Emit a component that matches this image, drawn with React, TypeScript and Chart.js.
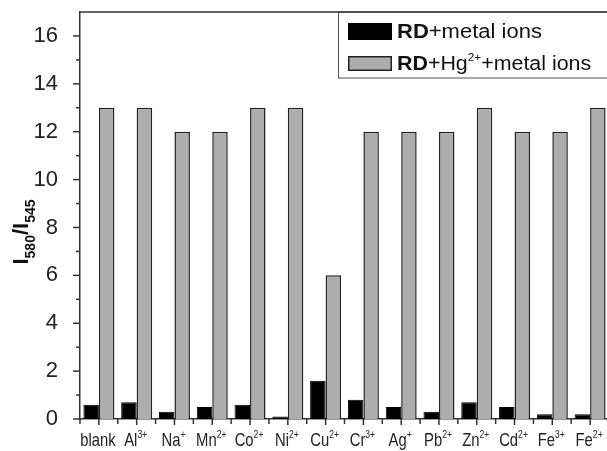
import React, { useEffect, useRef } from "react";
import { Chart, registerables } from "chart.js";

Chart.register(...registerables);

const ionSymbols = ["blank", "Al", "Na", "Mn", "Co", "Ni", "Cu", "Cr", "Ag", "Pb", "Zn", "Cd", "Fe", "Fe"];
const ionCharges = ["", "3+", "+", "2+", "2+", "2+", "2+", "3+", "+", "2+", "2+", "2+", "3+", "2+"];
const rdMetal = [0.6, 0.7, 0.3, 0.5, 0.6, 0.1, 1.6, 0.8, 0.5, 0.3, 0.7, 0.5, 0.2, 0.2];
const rdHgMetal = [13, 13, 12, 12, 13, 13, 6, 12, 12, 12, 13, 12, 12, 13];
const yTickValues = [0, 1, 2, 3, 4, 5, 6, 7, 8, 9, 10, 11, 12, 13, 14, 15, 16];
const yMax = 17;

const FONT = '"Liberation Sans", Arial, Helvetica, sans-serif';

type Seg = { text: string; font: string; dy?: number };

function drawRich(ctx: CanvasRenderingContext2D, segs: Seg[], x: number, y: number, align: "left" | "center", sx = 1) {
  ctx.save();
  ctx.translate(x, y);
  ctx.scale(sx, 1);
  ctx.textBaseline = "alphabetic";
  ctx.textAlign = "left";
  let w = 0;
  for (const s of segs) {
    ctx.font = s.font;
    w += ctx.measureText(s.text).width;
  }
  let cx = align === "center" ? -w / 2 : 0;
  for (const s of segs) {
    ctx.font = s.font;
    ctx.fillText(s.text, cx, s.dy || 0);
    cx += ctx.measureText(s.text).width;
  }
  ctx.restore();
}

const decorPlugin = {
  id: "decor",
  afterDraw(chart: any) {
    const ctx: CanvasRenderingContext2D = chart.ctx;
    const area = chart.chartArea;
    const xs = chart.scales.x;
    const ys = chart.scales.y;
    ctx.save();
    ctx.strokeStyle = "#333";
    ctx.fillStyle = "#333";
    ctx.lineWidth = 1.5;

    // y ticks
    for (const v of yTickValues) {
      const py = ys.getPixelForValue(v);
      const len = v % 2 === 0 ? 7 : 4;
      ctx.beginPath();
      ctx.moveTo(area.left - len, py);
      ctx.lineTo(area.left, py);
      ctx.stroke();
    }

    // x ticks + labels
    const n = ionSymbols.length;
    const cw = (area.right - area.left) / n;
    for (let i = 0; i < n; i++) {
      const cx = xs.getPixelForValue(i);
      ctx.strokeStyle = "#333";
      ctx.beginPath();
      ctx.moveTo(cx, area.bottom);
      ctx.lineTo(cx, area.bottom + 6);
      ctx.stroke();
      ctx.beginPath();
      ctx.moveTo(cx - cw / 2, area.bottom);
      ctx.lineTo(cx - cw / 2, area.bottom + 5);
      ctx.stroke();
      const segs: Seg[] = [{ text: ionSymbols[i], font: `19px ${FONT}` }];
      if (ionCharges[i]) segs.push({ text: ionCharges[i], font: `11px ${FONT}`, dy: -8 });
      ctx.fillStyle = "#222";
      drawRich(ctx, segs, cx - 1, 446, "center", 0.78);
    }

    // y title
    ctx.save();
    ctx.translate(28, 232);
    ctx.rotate(-Math.PI / 2);
    ctx.fillStyle = "#111";
    drawRich(
      ctx,
      [
        { text: "I", font: `bold 22px ${FONT}` },
        { text: "580", font: `bold 14px ${FONT}`, dy: 7 },
        { text: "/", font: `bold 22px ${FONT}` },
        { text: "I", font: `bold 22px ${FONT}` },
        { text: "545", font: `bold 14px ${FONT}`, dy: 7 },
      ],
      0,
      0,
      "center",
      1
    );
    ctx.restore();

    // legend
    const lx = 338;
    const ly = area.top;
    ctx.fillStyle = "#fff";
    ctx.fillRect(lx, ly, chart.width - lx, 66);
    ctx.strokeStyle = "#555";
    ctx.lineWidth = 1;
    ctx.strokeRect(lx + 0.5, ly, chart.width, 66);

    // top frame line
    ctx.strokeStyle = "#333";
    ctx.lineWidth = 1.5;
    ctx.beginPath();
    ctx.moveTo(area.left, area.top);
    ctx.lineTo(chart.width, area.top);
    ctx.stroke();

    ctx.fillStyle = "#000";
    ctx.fillRect(348, 23, 44, 17);
    ctx.fillStyle = "#adadad";
    ctx.fillRect(348, 56, 44, 15);
    ctx.strokeStyle = "#222";
    ctx.lineWidth = 1.5;
    ctx.strokeRect(348.75, 56.75, 42.5, 13.5);

    ctx.fillStyle = "#111";
    drawRich(
      ctx,
      [
        { text: "RD", font: `bold 20px ${FONT}` },
        { text: "+metal ions", font: `20px ${FONT}` },
      ],
      397,
      38,
      "left",
      1.1
    );
    drawRich(
      ctx,
      [
        { text: "RD", font: `bold 20px ${FONT}` },
        { text: "+Hg", font: `20px ${FONT}` },
        { text: "2+", font: `11px ${FONT}`, dy: -9 },
        { text: "+metal ions", font: `20px ${FONT}` },
      ],
      397,
      70,
      "left",
      1.07
    );
    ctx.restore();
  },
};

export default function App() {
  const ref = useRef<HTMLCanvasElement | null>(null);
  useEffect(() => {
    if (!ref.current) return;
    const chart = new Chart(ref.current, {
      type: "bar",
      data: {
        labels: ionSymbols.map((s, i) => s + ionCharges[i]),
        datasets: [
          {
            label: "RD+metal ions",
            data: rdMetal,
            backgroundColor: "#000",
            borderColor: "#000",
            borderWidth: 1,
            categoryPercentage: 0.82,
            barPercentage: 1.0,
          },
          {
            label: "RD+Hg2++metal ions",
            data: rdHgMetal,
            backgroundColor: "#adadad",
            borderColor: "#222",
            borderWidth: 1.5,
            categoryPercentage: 0.82,
            barPercentage: 1.0,
          },
        ],
      },
      options: {
        responsive: false,
        animation: false,
        layout: { padding: { left: 0, top: 12, right: 11, bottom: 0 } },
        plugins: { legend: { display: false }, tooltip: { enabled: false } },
        scales: {
          x: {
            offset: true,
            grid: { display: false },
            border: { display: true, color: "#333", width: 1.5 },
            ticks: { display: false },
            afterFit: (s: any) => {
              s.height = 32;
              s.paddingLeft = 0;
              s.paddingRight = 0;
            },
          },
          y: {
            min: 0,
            max: yMax,
            grid: { display: false },
            border: { display: true, color: "#333", width: 1.5 },
            afterBuildTicks: (s: any) => {
              s.ticks = yTickValues.map((v) => ({ value: v }));
            },
            ticks: {
              padding: 14,
              color: "#222",
              font: { family: FONT, size: 22 },
              callback: (v: any) => (Number(v) % 2 === 0 ? String(v) : ""),
            },
            afterFit: (s: any) => {
              s.width = 80;
              s.paddingTop = 0;
              s.paddingBottom = 0;
            },
          },
        },
      },
      plugins: [decorPlugin],
    });
    return () => chart.destroy();
  }, []);
  return (
    <div style={{ position: "fixed", left: 0, top: 0, width: 607, height: 451, overflow: "hidden", background: "#fff" }}>
      <canvas ref={ref} width={620} height={451} style={{ display: "block" }} />
    </div>
  );
}
